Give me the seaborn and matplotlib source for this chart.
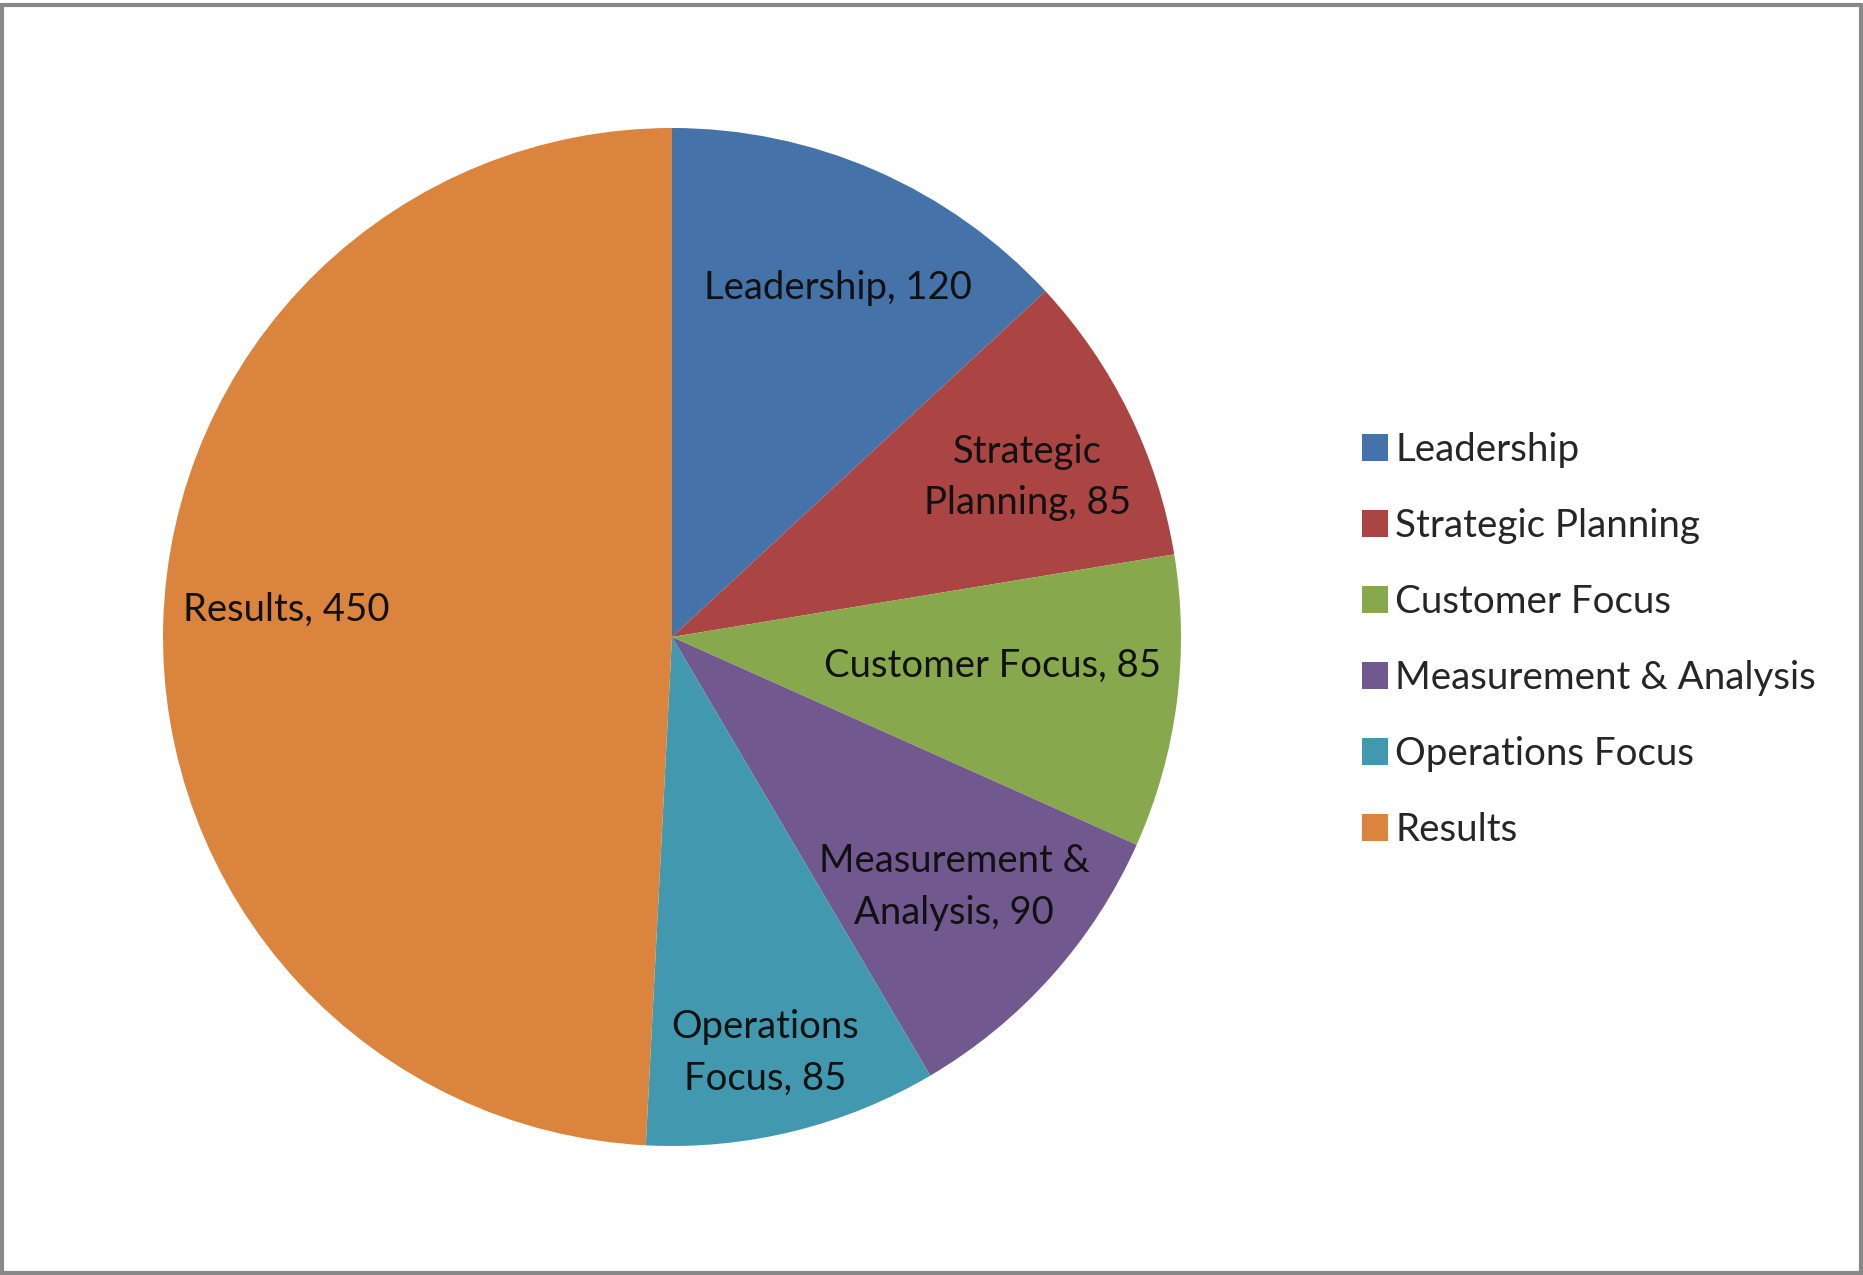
import numpy as np
import matplotlib
matplotlib.use("Agg")
import matplotlib.pyplot as plt
from matplotlib.patches import Rectangle
from matplotlib.transforms import offset_copy
import seaborn as sns

categories = ["Leadership", "Strategic Planning", "Customer Focus",
              "Measurement & Analysis", "Operations Focus", "Results"]
values = [120, 85, 85, 90, 85, 450]
slice_labels = ["Leadership, 120", "Strategic\nPlanning, 85", "Customer Focus, 85",
                "Measurement &\nAnalysis, 90", "Operations\nFocus, 85", "Results, 450"]
colors = ["#4672AA", "#AA4543", "#88A84E", "#71588F", "#4298AF", "#DB843D"]

# label placement styling (radius fraction, angular offset in degrees)
label_r = [0.765, 0.768, 0.632, 0.737, 0.832, 0.761]
label_dtheta = [-1.6, -1.5, 2.8, 0.6, -1.0, -3.0]

sns.set_theme(style="white")
plt.rcParams['font.family'] = ['Lato', 'DejaVu Sans']

W, H = 1863, 1275
dpi = 100
fig = plt.figure(figsize=(W / dpi, H / dpi), dpi=dpi)
fig.patch.set_facecolor("white")

cx, cy, R = 672, 1275 - 637, 509
ax = fig.add_axes([(cx - R) / W, (cy - R) / H, 2 * R / W, 2 * R / H])
palette = sns.color_palette(colors)
wedges, _ = ax.pie(values, colors=palette, startangle=90, counterclock=False,
                   radius=1.0, wedgeprops=dict(linewidth=0))
ax.set_xlim(-1, 1)
ax.set_ylim(-1, 1)
ax.set_aspect("equal")
ax.axis("off")

text_tr = offset_copy(ax.transData, fig=fig, x=0, y=-3, units="dots")
for w, lab, r, dt in zip(wedges, slice_labels, label_r, label_dtheta):
    mid = np.deg2rad((w.theta1 + w.theta2) / 2 + dt)
    ax.text(r * np.cos(mid), r * np.sin(mid), lab, ha="center", va="center",
            fontsize=27.5, color="#111111", linespacing=1.55, transform=text_tr)

leg = fig.legend(wedges, categories, loc="upper left",
                 bbox_to_anchor=(1362 / W, 1 - 432 / H), frameon=False,
                 fontsize=27.7, handlelength=0.68, handleheight=0.68,
                 handletextpad=0.18, labelspacing=1.04, borderpad=0,
                 borderaxespad=0)

fig.patches.append(Rectangle((2 / W, 2 / H), (W - 4) / W, (H - 7) / H,
                             transform=fig.transFigure, fill=False,
                             edgecolor="#888888", linewidth=3))

fig.savefig("out.png", dpi=dpi, facecolor="white")
